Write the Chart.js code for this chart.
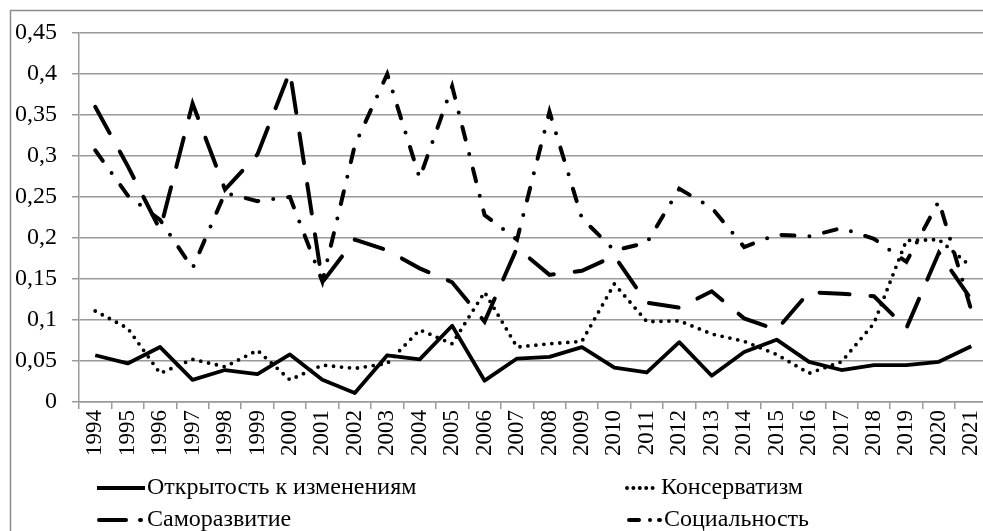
<!DOCTYPE html>
<html>
<head>
<meta charset="utf-8">
<script src="https://cdn.jsdelivr.net/npm/chart.js@4.4.1/dist/chart.umd.min.js"></script>
<style>
  html, body { margin: 0; padding: 0; background: #fff; overflow: hidden; }
  #wrap { position: relative; width: 1000px; height: 531px; }
</style>
</head>
<body>
<div id="wrap"><canvas id="myChart"></canvas></div>
<script>
const years = ['1994', '1995', '1996', '1997', '1998', '1999', '2000', '2001', '2002', '2003',
    '2004', '2005', '2006', '2007', '2008', '2009', '2010', '2011', '2012', '2013',
    '2014', '2015', '2016', '2017', '2018', '2019', '2020', '2021'];

const openness = [0.057, 0.047, 0.067, 0.027, 0.039, 0.034, 0.058, 0.027, 0.011, 0.057,
    0.052, 0.093, 0.026, 0.053, 0.055, 0.067, 0.042, 0.036, 0.073, 0.032,
    0.061, 0.076, 0.049, 0.039, 0.045, 0.045, 0.049, 0.068];

const conservatism = [0.111, 0.090, 0.035, 0.052, 0.043, 0.063, 0.027, 0.045, 0.041, 0.047,
    0.088, 0.071, 0.134, 0.067, 0.071, 0.074, 0.144, 0.098, 0.099, 0.083,
    0.074, 0.058, 0.035, 0.049, 0.096, 0.197, 0.198, 0.165];

const selfDevelopment = [0.360, 0.288, 0.210, 0.364, 0.259, 0.302, 0.403, 0.146, 0.198, 0.185,
    0.163, 0.146, 0.098, 0.188, 0.155, 0.160, 0.178, 0.121, 0.115, 0.135,
    0.102, 0.088, 0.134, 0.132, 0.129, 0.090, 0.182, 0.125];

const sociality = [0.307, 0.252, 0.222, 0.163, 0.255, 0.245, 0.250, 0.147, 0.313, 0.400,
    0.273, 0.385, 0.228, 0.198, 0.354, 0.224, 0.185, 0.194, 0.260, 0.237,
    0.189, 0.204, 0.202, 0.212, 0.199, 0.171, 0.245, 0.112];

const yTicks = [0, 0.05, 0.1, 0.15, 0.2, 0.25, 0.3, 0.35, 0.4, 0.45];

const seriesNames = ['Открытость к изменениям', 'Консерватизм', 'Саморазвитие', 'Социальность'];

const serif = "'Liberation Serif', 'Times New Roman', serif";
const grid = '#9a9a9a';

// legend drawn by hand: two columns, two rows like the original
const legendPlugin = {
    id: 'legendGrid',
    beforeDraw(chart) {
        const c = chart.ctx;
        c.save();
        c.strokeStyle = '#8c8c8c';
        c.lineWidth = 1.5;
        c.strokeRect(10.5, 10.5, 2000, 2000);
        c.restore();
    },
    afterDraw(chart) {
        const c = chart.ctx;
        const items = [
            {x0: 97, x1: 145, y: 488, dash: [], tx: 147},
            {x0: 627, x1: 658, y: 488, dash: [0, 6.4], tx: 661},
            {x0: 99, x1: 141, y: 520, dash: [27, 14], tx: 147},
            {x0: 629, x1: 660, y: 520, dash: [10, 11, 0, 9], tx: 664}
        ];
        c.save();
        items.forEach((it, i) => {
            c.beginPath();
            c.setLineDash(it.dash);
            c.lineCap = it.dash.length ? 'round' : 'butt';
            c.lineWidth = 4;
            c.strokeStyle = '#000';
            c.moveTo(it.x0, it.y);
            c.lineTo(it.x1, it.y);
            c.stroke();
            c.setLineDash([]);
            c.fillStyle = '#000';
            c.font = "24px " + serif;
            c.textBaseline = 'middle';
            c.fillText(seriesNames[i], it.tx, it.y);
        });
        c.restore();
    }
};

const ctx = document.getElementById('myChart');

new Chart(ctx, {
    type: 'line',
    data: {
        labels: years,
        datasets: [
            {
                label: seriesNames[0],
                data: openness,
                borderColor: '#000',
                borderWidth: 3.8,
                borderJoinStyle: 'round',
            },
            {
                label: seriesNames[1],
                data: conservatism,
                borderColor: '#000',
                borderWidth: 3.8,
                borderDash: [0, 8],
                borderCapStyle: 'round',
            },
            {
                label: seriesNames[2],
                data: selfDevelopment,
                borderColor: '#000',
                borderWidth: 4,
                borderDash: [30, 21],
                borderCapStyle: 'round',
            },
            {
                label: seriesNames[3],
                data: sociality,
                borderColor: '#000',
                borderWidth: 4,
                borderDash: [13, 15, 0, 15],
                borderCapStyle: 'round',
            },
        ]
    },
    options: {
        responsive: true,
        maintainAspectRatio: false,
        animation: false,
        events: [],
        layout: {padding: {top: 33, right: 6, left: 0, bottom: 0}},
        elements: {point: {radius: 0}, line: {tension: 0, fill: false}},
        plugins: {legend: {display: false}, tooltip: {enabled: false}},
        scales: {
            x: {
                offset: true,
                grid: {display: true, drawOnChartArea: false, drawTicks: true, tickLength: 7, color: grid, lineWidth: 1.5, offset: true},
                border: {display: true, color: grid, width: 1.5},
                ticks: {
                    autoSkip: false,
                    minRotation: 90,
                    maxRotation: 90,
                    padding: 1,
                    color: '#000',
                    font: {family: serif, size: 23}
                },
                afterFit(scale) { scale.height = 129; }
            },
            y: {
                min: 0,
                max: 0.45,
                afterBuildTicks(scale) { scale.ticks = yTicks.map(v => ({value: v})); },
                grid: {color: grid, lineWidth: 1.5, tickLength: 7},
                border: {display: true, color: grid, width: 1.5},
                ticks: {
                    padding: 15,
                    color: '#000',
                    font: {family: serif, size: 24},
                    callback: v => String(Math.round(v * 100) / 100).replace('.', ',')
                },
                afterFit(scale) { scale.width = 79; }
            }
        }
    },
    plugins: [legendPlugin]
});
</script>
</body>
</html>
